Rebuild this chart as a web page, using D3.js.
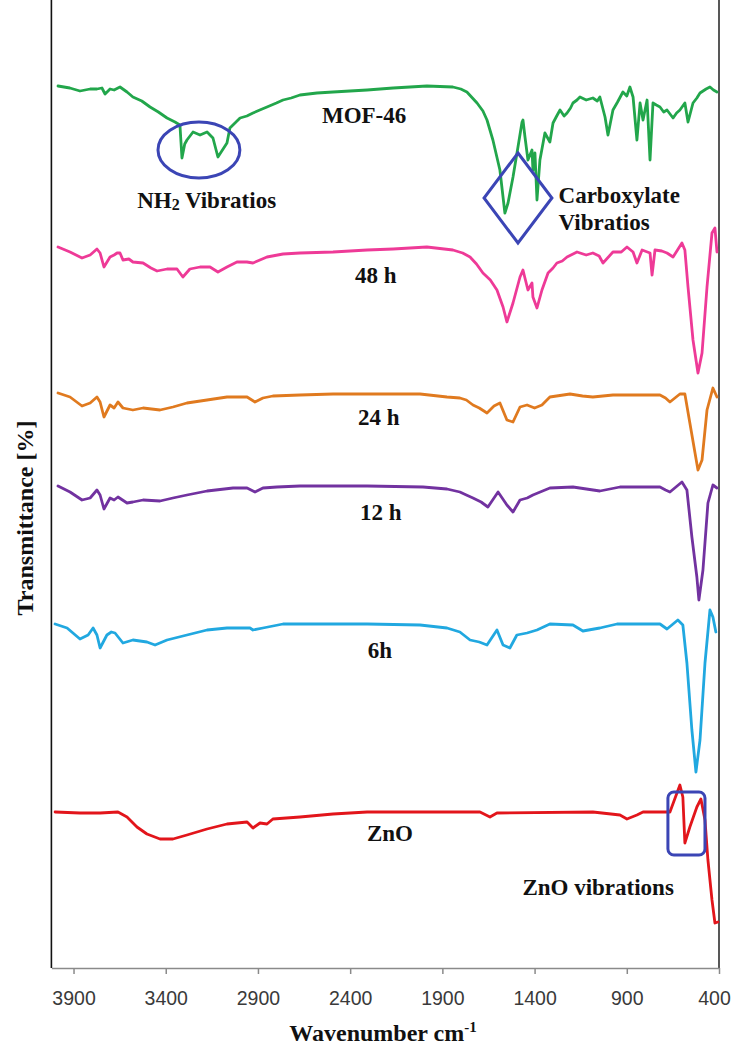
<!DOCTYPE html>
<html>
<head>
<meta charset="utf-8">
<script src="https://cdn.jsdelivr.net/npm/d3@7"></script>
<style>
  body { margin: 0; background: #fff; }
  svg { display: block; }
</style>
</head>
<body>
<svg id="chart" width="733" height="1053"></svg>
<script>
// FTIR spectra, stacked: [wavenumber (cm-1), transmittance (stacked a.u.)]
const mof46 = [
  [3984, 88.2], [3920, 88.0], [3865, 87.7], [3810, 87.9], [3773, 87.9], [3746, 88.0], [3729, 87.4], [3702, 87.9],
  [3680, 87.8], [3659, 88.0], [3648, 88.1], [3610, 87.6], [3578, 87.1], [3530, 86.7], [3485, 86.1], [3440, 85.6],
  [3393, 85.0], [3350, 84.6], [3323, 84.3],
  [3312, 81.0], [3297, 82.4], [3285, 82.8], [3252, 83.6], [3214, 83.3], [3176, 83.6], [3144, 83.0],
  [3117, 81.1], [3068, 82.5], [3052, 84.0], [2997, 85.0], [2960, 85.2], [2927, 85.5], [2890, 85.8], [2851, 86.1],
  [2800, 86.5], [2764, 86.8], [2720, 87.0], [2672, 87.3], [2580, 87.5], [2493, 87.6], [2401, 87.7], [2308, 87.8],
  [2167, 88.0], [1984, 88.2], [1843, 88.1], [1800, 87.9], [1767, 87.6], [1712, 86.5], [1680, 85.7], [1658, 84.8],
  [1626, 82.8], [1588, 79.8], [1561, 75.5], [1544, 76.5], [1517, 79.1], [1490, 82.1],
  [1468, 84.6], [1463, 84.8], [1452, 83.1], [1436, 80.8], [1414, 81.8], [1409, 79.8],
  [1398, 81.5], [1387, 76.8], [1371, 80.8], [1344, 83.5], [1317, 82.6], [1300, 84.5],
  [1280, 85.2], [1262, 85.8], [1240, 85.2], [1224, 85.5], [1205, 86.0], [1192, 86.5], [1170, 86.8], [1154, 87.1],
  [1120, 86.8], [1084, 87.0], [1060, 86.7], [1046, 87.1],
  [1018, 85.1], [1002, 83.3], [975, 85.8], [950, 86.6], [921, 87.6], [900, 87.2], [883, 88.1], [866, 87.1],
  [845, 82.8], [828, 86.5], [812, 84.8], [790, 86.8], [774, 80.8], [758, 86.5],
  [740, 86.3], [720, 86.1], [700, 85.6], [682, 85.8], [649, 85.0], [630, 85.5], [612, 85.8], [585, 86.5], [568, 84.6],
  [541, 86.5], [520, 87.0], [503, 87.5], [470, 87.9], [449, 88.1], [430, 87.8], [411, 87.6]
];

const h48 = [
  [3984, 72.1], [3919, 71.6], [3854, 71.0], [3810, 71.3], [3773, 71.9], [3756, 71.5],
  [3735, 70.1], [3702, 71.1], [3680, 71.3], [3664, 71.5], [3648, 71.5], [3632, 70.8], [3600, 70.9], [3578, 70.6],
  [3523, 70.5], [3480, 70.0], [3447, 69.7], [3393, 69.9], [3339, 69.9], [3307, 69.1], [3269, 69.9],
  [3214, 70.1], [3160, 70.1], [3117, 69.6], [3068, 70.1], [3014, 70.6], [2960, 70.6], [2927, 70.5],
  [2851, 71.1], [2764, 71.4], [2672, 71.5], [2493, 71.6], [2308, 71.8], [2167, 71.9],
  [1984, 72.1], [1843, 71.8], [1790, 71.5], [1750, 71.1], [1715, 70.4], [1680, 69.5], [1640, 68.8], [1604, 67.8], [1571, 66.1],
  [1550, 64.6], [1517, 66.5], [1479, 69.1], [1463, 69.8], [1436, 67.8], [1414, 68.5],
  [1409, 67.1], [1387, 66.0], [1360, 67.8], [1327, 69.5], [1300, 70.0], [1279, 70.5], [1250, 70.7], [1224, 71.1],
  [1170, 71.6], [1120, 71.3], [1084, 71.5], [1050, 71.2], [1029, 70.5], [975, 71.6], [930, 71.6], [899, 72.1], [866, 71.6],
  [845, 70.5], [817, 71.8], [774, 71.5], [763, 69.3], [747, 71.8], [710, 71.7], [682, 71.5],
  [649, 71.1], [601, 72.5], [585, 71.8], [568, 68.1], [541, 62.8], [514, 59.5],
  [492, 61.5], [465, 68.1], [438, 73.5], [422, 74.0], [411, 71.6]
];

const h24 = [
  [3984, 57.5], [3919, 57.1], [3854, 56.2], [3810, 56.5], [3773, 57.1], [3756, 56.6],
  [3735, 55.1], [3702, 56.3], [3680, 56.0], [3659, 56.6], [3632, 56.0], [3578, 55.8], [3523, 56.0],
  [3431, 55.8], [3361, 56.1], [3285, 56.5], [3176, 56.8], [3068, 57.1], [2959, 57.1],
  [2916, 56.6], [2873, 57.0], [2819, 57.2], [2672, 57.3], [2493, 57.4], [2308, 57.4],
  [2021, 57.4], [1875, 57.1], [1805, 57.0], [1770, 56.8], [1734, 56.3], [1700, 56.0], [1658, 55.5], [1620, 56.2], [1588, 56.5],
  [1550, 54.8], [1517, 54.6], [1479, 56.1], [1441, 56.3], [1400, 56.0], [1360, 56.3], [1317, 57.1],
  [1208, 57.4], [1140, 57.2], [1084, 57.1], [975, 57.3], [845, 57.3], [720, 57.3], [690, 57.0], [666, 56.6],
  [612, 57.4], [585, 57.4], [558, 54.5], [530, 51.5], [514, 49.8], [492, 50.8],
  [465, 55.8], [433, 58.0], [411, 57.1]
];

const h12 = [
  [3984, 48.2], [3919, 47.6], [3854, 46.8], [3810, 47.0], [3773, 47.8], [3756, 47.3],
  [3735, 45.9], [3702, 47.0], [3680, 46.8], [3659, 47.1], [3610, 46.5], [3578, 46.6], [3523, 46.8],
  [3431, 46.7], [3361, 47.0], [3285, 47.3], [3176, 47.7], [3035, 48.0], [2959, 48.0],
  [2916, 47.6], [2873, 48.0], [2797, 48.1], [2672, 48.2], [2308, 48.2], [2005, 48.1],
  [1875, 47.9], [1805, 47.6], [1770, 47.3], [1734, 47.0], [1690, 46.6], [1653, 46.1], [1598, 47.6], [1550, 46.3],
  [1517, 45.6], [1479, 46.8], [1440, 47.0], [1409, 47.3], [1317, 48.0], [1192, 48.1], [1046, 47.7],
  [937, 48.1], [720, 48.1], [690, 47.8], [666, 47.6], [601, 48.6], [574, 47.8], [547, 43.1],
  [520, 39.1], [509, 36.8], [487, 39.8], [460, 46.5], [433, 48.3], [411, 48.0]
];

const h6 = [
  [4000, 34.4], [3935, 34.0], [3865, 32.9], [3821, 33.3], [3794, 34.0], [3773, 33.3],
  [3756, 32.0], [3719, 33.3], [3695, 33.6], [3675, 33.5], [3632, 32.5], [3578, 32.8], [3502, 32.6],
  [3458, 32.3], [3393, 32.8], [3285, 33.3], [3176, 33.8], [3068, 34.0], [2943, 34.0],
  [2927, 33.8], [2873, 34.0], [2764, 34.4], [2493, 34.4], [2308, 34.4], [2021, 34.3],
  [1875, 34.0], [1805, 33.6], [1750, 32.8], [1700, 32.6], [1658, 32.3], [1604, 33.8], [1571, 32.3],
  [1534, 32.0], [1496, 33.3], [1441, 33.5], [1387, 33.8], [1317, 34.4], [1192, 34.3],
  [1138, 33.7], [1046, 34.0], [953, 34.4], [720, 34.4], [682, 33.9], [623, 34.8],
  [596, 34.3], [574, 30.5], [547, 23.8], [525, 19.6], [503, 22.8], [476, 30.5],
  [449, 35.8], [433, 35.1], [417, 33.6]
];

const zno = [
  [4000, 15.6], [3865, 15.5], [3756, 15.5], [3659, 15.6], [3610, 15.1], [3556, 14.1],
  [3502, 13.4], [3431, 12.9], [3361, 12.9], [3285, 13.3], [3176, 13.9], [3068, 14.4],
  [2959, 14.6], [2927, 14.0], [2889, 14.5], [2851, 14.4], [2819, 14.9], [2672, 15.1],
  [2493, 15.4], [2308, 15.6], [1696, 15.6], [1642, 15.1], [1604, 15.5], [1084, 15.6],
  [937, 15.3], [899, 14.9], [845, 15.3], [812, 15.6], [666, 15.6], [628, 17.5],
  [612, 18.3], [596, 17.1], [585, 12.5], [558, 14.1], [520, 16.1], [498, 16.9],
  [476, 14.8], [460, 10.8], [438, 6.8], [422, 4.5], [406, 4.6]
];

const seriesData = [mof46, h48, h24, h12, h6, zno];
const seriesNames = ["MOF-46", "48 h", "24 h", "12 h", "6h", "ZnO"];
const seriesColors = ["#22a64b", "#ee3a97", "#e07a1f", "#7232a0", "#21a8e0", "#e2151b"];
// label anchor for each trace name: [wavenumber, transmittance]
const labelAnchors = [[2553, 84.5], [2374, 68.5], [2358, 54.3], [2347, 44.8], [2304, 31.0], [2309, 12.7]];

const xTicks = [3900, 3400, 2900, 2400, 1900, 1400, 900, 400];

const svg = d3.select("#chart");
const plot = { left: 51.4, right: 719, top: 0, bottom: 968 };

const x = d3.scaleLinear().domain([4020, 400]).range([plot.left, plot.right]);
const y = d3.scaleLinear().domain([0, 96.8]).range([plot.bottom, plot.top]);

const serif = "'Liberation Serif', 'Times New Roman', serif";
const labelSize = 23;

// frame: left and right vertical borders
svg.append("line")
  .attr("x1", plot.left).attr("x2", plot.left)
  .attr("y1", plot.top).attr("y2", plot.bottom)
  .attr("stroke", "#111").attr("stroke-width", 1.6);
svg.append("line")
  .attr("x1", plot.right).attr("x2", plot.right)
  .attr("y1", plot.top).attr("y2", plot.bottom)
  .attr("stroke", "#111").attr("stroke-width", 1.4);

// x axis
const xAxis = d3.axisBottom(x)
  .tickValues(xTicks)
  .tickSize(6)
  .tickSizeOuter(0)
  .tickFormat(d3.format("d"));

const gx = svg.append("g")
  .attr("transform", `translate(0,${plot.bottom})`)
  .call(xAxis);
gx.select(".domain").attr("stroke", "#8a8a8a").attr("stroke-width", 1.5);
gx.selectAll(".tick line").attr("stroke", "#8a8a8a").attr("stroke-width", 1.5);
gx.selectAll(".tick text")
  .attr("y", 23)
  .attr("fill", "#3a3a3a")
  .style("font-family", "'Liberation Sans', Arial, sans-serif")
  .style("font-size", "19.5px");
// keep the last label inside the canvas
gx.selectAll(".tick text").filter(d => d === 400).attr("dx", -5);

// axis titles
const xt = svg.append("text")
  .attr("x", 383).attr("y", 1041)
  .attr("text-anchor", "middle")
  .style("font-family", serif).style("font-weight", "bold").style("font-size", "24px")
  .attr("fill", "#111");
xt.append("tspan").text("Wavenumber cm");
xt.append("tspan").text("-1").attr("dy", -9).style("font-size", "15px");

svg.append("text")
  .attr("transform", "translate(33,518) rotate(-90)")
  .attr("text-anchor", "middle")
  .style("font-family", serif).style("font-weight", "bold").style("font-size", "24px")
  .attr("fill", "#111")
  .text("Transmittance [%]");

// spectra
const line = d3.line().x(d => x(d[0])).y(d => y(d[1]));
svg.append("g").selectAll("path")
  .data(seriesData)
  .join("path")
  .attr("d", line)
  .attr("fill", "none")
  .attr("stroke", (d, i) => seriesColors[i])
  .attr("stroke-width", 2.8)
  .attr("stroke-linejoin", "round")
  .attr("stroke-linecap", "round");

// trace names
svg.append("g").selectAll("text")
  .data(seriesNames)
  .join("text")
  .attr("x", (d, i) => x(labelAnchors[i][0]))
  .attr("y", (d, i) => y(labelAnchors[i][1]))
  .style("font-family", serif).style("font-weight", "bold").style("font-size", labelSize + "px")
  .attr("fill", "#111")
  .text(d => d);

// band annotations
const markBlue = "#3b45b5";

// NH2 band (ellipse)
const nh2 = { w: 3220, t: 81.8, dw: 222, dt: 2.8 };
svg.append("ellipse")
  .attr("cx", x(nh2.w)).attr("cy", y(nh2.t))
  .attr("rx", x(nh2.w - nh2.dw) - x(nh2.w))
  .attr("ry", y(nh2.t - nh2.dt) - y(nh2.t))
  .attr("fill", "none").attr("stroke", markBlue).attr("stroke-width", 3);

const nh2Label = svg.append("text")
  .attr("x", x(3555)).attr("y", y(76.0))
  .style("font-family", serif).style("font-weight", "bold").style("font-size", labelSize + "px")
  .attr("fill", "#111");
nh2Label.append("tspan").text("NH");
nh2Label.append("tspan").text("2").attr("dy", 2).style("font-size", "16px");
nh2Label.append("tspan").text(" Vibratios").attr("dy", -2);

// carboxylate band (diamond)
const carb = { w: 1490, t: 77.0, dw: 184, dt: 4.5 };
const diamond = [
  [carb.w, carb.t + carb.dt], [carb.w - carb.dw, carb.t],
  [carb.w, carb.t - carb.dt], [carb.w + carb.dw, carb.t]
];
svg.append("path")
  .attr("d", d3.line().x(d => x(d[0])).y(d => y(d[1]))(diamond) + "Z")
  .attr("fill", "none").attr("stroke", markBlue).attr("stroke-width", 3)
  .attr("stroke-linejoin", "miter");

svg.append("text")
  .attr("x", x(1270)).attr("y", y(76.5))
  .style("font-family", serif).style("font-weight", "bold").style("font-size", labelSize + "px")
  .attr("fill", "#111").text("Carboxylate");
svg.append("text")
  .attr("x", x(1270)).attr("y", y(73.8))
  .style("font-family", serif).style("font-weight", "bold").style("font-size", labelSize + "px")
  .attr("fill", "#111").text("Vibratios");

// ZnO band (rounded box)
const znoBox = { w0: 677, w1: 476, t0: 17.6, t1: 11.3 };
svg.append("rect")
  .attr("x", x(znoBox.w0)).attr("y", y(znoBox.t0))
  .attr("width", x(znoBox.w1) - x(znoBox.w0))
  .attr("height", y(znoBox.t1) - y(znoBox.t0))
  .attr("rx", 6).attr("ry", 6)
  .attr("fill", "none").attr("stroke", markBlue).attr("stroke-width", 3);

svg.append("text")
  .attr("x", x(1466)).attr("y", y(7.3))
  .style("font-family", serif).style("font-weight", "bold").style("font-size", labelSize + "px")
  .attr("fill", "#111").text("ZnO vibrations");
</script>
</body>
</html>
